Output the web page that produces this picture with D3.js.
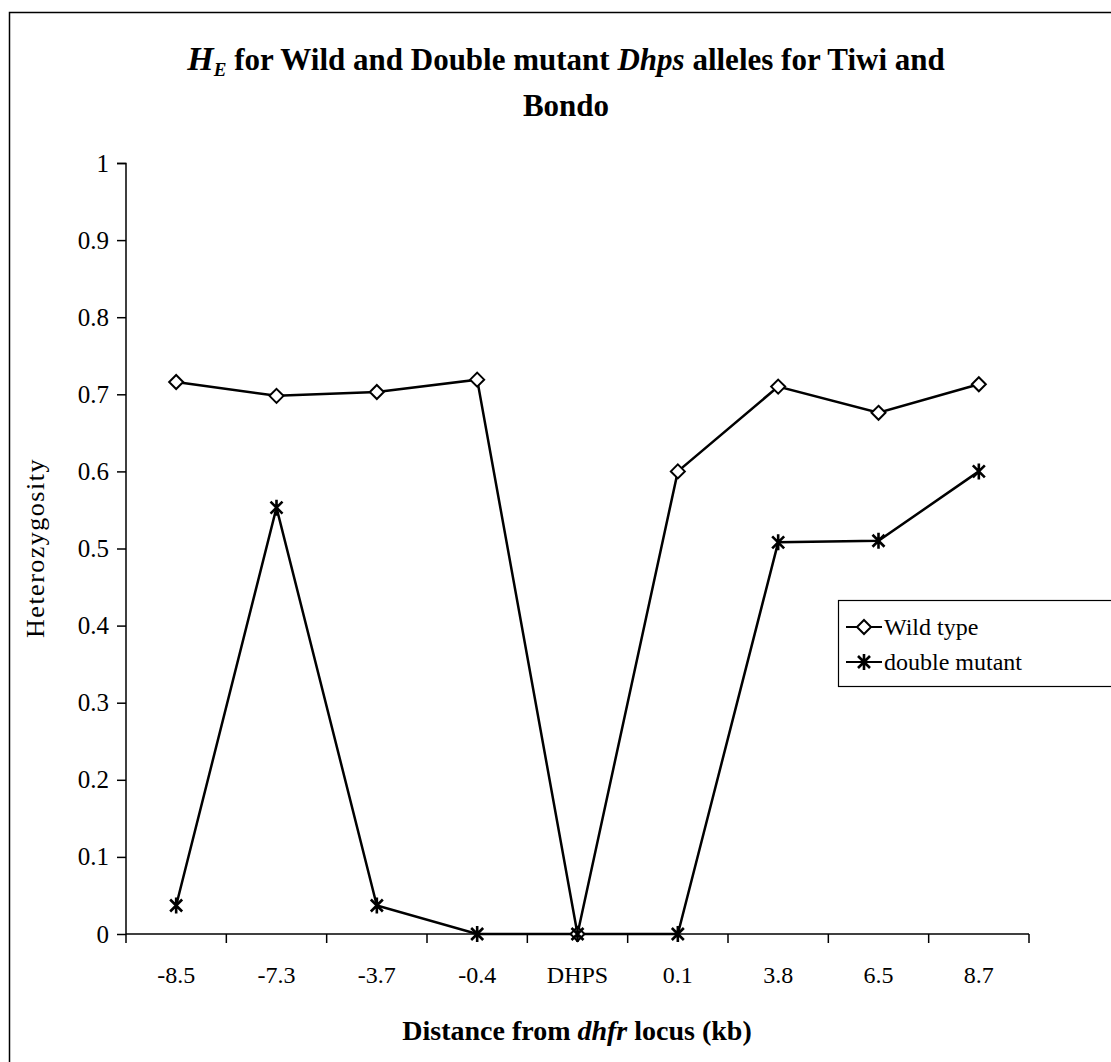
<!DOCTYPE html>
<html><head><meta charset="utf-8">
<script src="https://cdn.jsdelivr.net/npm/d3@7"></script>
<style>body{margin:0;background:#fff}svg{display:block}</style>
</head><body>
<script>
const categories = ["-8.5","-7.3","-3.7","-0.4","DHPS","0.1","3.8","6.5","8.7"];
const wildType = [0.716,0.698,0.703,0.719,0,0.600,0.710,0.676,0.713];
const doubleMutant = [0.037,0.553,0.037,0,0,0,0.508,0.510,0.600];
const yTicks = [0,0.1,0.2,0.3,0.4,0.5,0.6,0.7,0.8,0.9,1];
const seriesNames = ["Wild type","double mutant"];

const W=1111,H=1062;
const svg=d3.select("body").append("svg").attr("width",W).attr("height",H);
const font="'Liberation Serif','DejaVu Serif',serif";
svg.append("rect").attr("x",9.5).attr("y",12.5).attr("width",1120).attr("height",1070)
  .attr("fill","none").attr("stroke","#000").attr("stroke-width",1.5);

const x=d3.scaleBand().domain(categories).range([126,1029]);
const y=d3.scaleLinear().domain([0,1]).range([934,163]);

// title
const t=svg.append("text").attr("x",566).attr("y",70).attr("text-anchor","middle")
 .attr("font-family",font).attr("font-weight","bold").attr("font-size",31);
t.append("tspan").attr("font-style","italic").attr("font-size",34).text("H");
t.append("tspan").attr("font-style","italic").attr("font-size",19).attr("dy",6).text("E");
t.append("tspan").attr("dy",-6).text("  for Wild and Double mutant ");
t.append("tspan").attr("font-style","italic").text("Dhps");
t.append("tspan").text(" alleles for Tiwi and");
svg.append("text").attr("x",566).attr("y",116).attr("text-anchor","middle")
 .attr("font-family",font).attr("font-weight","bold").attr("font-size",31).text("Bondo");

// axes
const ya=svg.append("g").attr("transform","translate(126,0)")
 .call(d3.axisLeft(y).tickValues(yTicks).tickSize(9).tickPadding(8).tickFormat(d=>d3.format("")(d)));
const xa=svg.append("g").attr("transform","translate(0,934)")
 .call(d3.axisBottom(x).tickSize(0).tickPadding(32));
ya.selectAll("text").attr("font-size",25);
xa.selectAll("text").attr("font-size",24);
[ya,xa].forEach(g=>{g.selectAll("text").attr("font-family",font).attr("fill","#000");
 g.selectAll("path,line").attr("stroke","#000").attr("stroke-width",1.5);});
ya.select(".domain").attr("d","M-9,163.5H0V934");
xa.select(".domain").attr("d","M126,0H1029");
// x boundary ticks
const bounds=categories.map(c=>x(c)).concat([x.range()[1]]);
svg.append("g").selectAll("line").data(bounds).join("line")
 .attr("x1",d=>d).attr("x2",d=>d).attr("y1",934).attr("y2",943)
 .attr("stroke","#000").attr("stroke-width",1.5);

svg.append("text").attr("transform","translate(44,548) rotate(-90)").attr("text-anchor","middle")
 .attr("font-family",font).attr("font-size",26).attr("letter-spacing",1.5).text("Heterozygosity");
const xt=svg.append("text").attr("x",577).attr("y",1040).attr("text-anchor","middle")
 .attr("font-family",font).attr("font-weight","bold").attr("font-size",28);
xt.append("tspan").text("Distance from ");
xt.append("tspan").attr("font-style","italic").text("dhfr");
xt.append("tspan").text(" locus (kb)");

const cx=c=>x(c)+x.bandwidth()/2;
const line=d3.line().x((d,i)=>cx(categories[i])).y(d=>y(d));
function diamond(g,px,py){g.append("path").attr("d",`M${px},${py-7}L${px+7},${py}L${px},${py+7}L${px-7},${py}Z`)
 .attr("fill","#fff").attr("stroke","#000").attr("stroke-width",2);}
function star(g,px,py){g.append("path").attr("d",`M${px-6},${py-6}L${px+6},${py+6}M${px+6},${py-6}L${px-6},${py+6}M${px},${py-8}L${px},${py+8}`)
 .attr("stroke","#000").attr("stroke-width",2.6).attr("fill","none");}

svg.append("path").datum(wildType).attr("d",line).attr("fill","none").attr("stroke","#000").attr("stroke-width",2.5);
svg.append("path").datum(doubleMutant).attr("d",line).attr("fill","none").attr("stroke","#000").attr("stroke-width",2.5);
const mk=svg.append("g");
wildType.forEach((v,i)=>diamond(mk,cx(categories[i]),y(v)));
doubleMutant.forEach((v,i)=>star(mk,cx(categories[i]),y(v)));

// legend
const lg=svg.append("g");
lg.append("rect").attr("x",838.5).attr("y",600.5).attr("width",300).attr("height",86)
 .attr("fill","#fff").attr("stroke","#000").attr("stroke-width",1.2);
[627,662].forEach((ly,i)=>{
 lg.append("line").attr("x1",846).attr("x2",882).attr("y1",ly).attr("y2",ly).attr("stroke","#000").attr("stroke-width",2);
 if(i===0) diamond(lg,864,ly); else star(lg,864,ly);
 lg.append("text").attr("x",884).attr("y",ly+8).attr("font-family",font).attr("font-size",24).text(seriesNames[i]);
});
</script>
</body></html>
